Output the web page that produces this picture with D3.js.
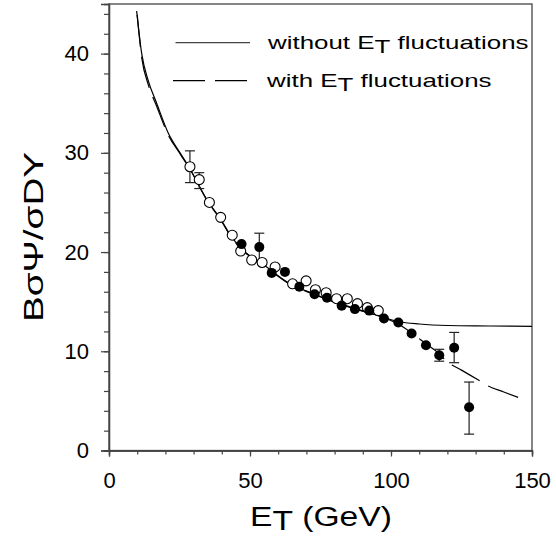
<!DOCTYPE html>
<meta charset="utf-8">
<script src="https://cdn.jsdelivr.net/npm/d3@7/dist/d3.min.js"></script>
<style>
  body { margin: 0; background: #fff; }
  text { font-family: "Liberation Sans", Arial, sans-serif; fill: #000; }
</style>
<svg width="556" height="537"></svg>
<script>
// open circles (E_T, ratio)
var openE = [28.7, 32.0, 35.6, 39.6, 43.7, 46.7, 50.6, 54.3, 58.9, 65.1, 69.9, 73.2, 77.0, 80.7, 84.5, 88.1, 91.6, 95.5];
var openV = [28.6, 27.3, 25.0, 23.5, 21.7, 20.1, 19.2, 18.95, 18.5, 16.8, 17.1, 16.2, 15.9, 15.3, 15.3, 14.8, 14.4, 14.1];
var openErr = [[27.0, 30.2], [26.4, 28.0], null, null, null, null, null, null, null, null, null, null, null, null, null, null, null, null];

// filled circles
var fullE = [47.0, 53.3, 57.7, 62.4, 67.5, 72.9, 77.3, 82.5, 87.2, 92.3, 97.5, 102.6, 107.3, 112.4, 117.1, 122.4, 127.7];
var fullV = [20.8, 20.5, 17.9, 18.0, 16.5, 15.75, 15.4, 14.6, 14.25, 14.1, 13.3, 12.9, 11.8, 10.6, 9.6, 10.35, 4.35];
var fullErr = [null, [19.0, 21.9], null, null, null, null, null, null, null, null, null, null, null, null, [9.0, 10.2], [8.85, 11.9], [1.65, 6.9]];

// curve without E_T fluctuations
var solidE = [9.8, 11.6, 14, 16.9, 21, 25.2, 28.7, 35.2, 39.4, 43.5, 48.2, 53.5, 64.2, 72.5, 81.9, 94.9, 102.6, 110, 120, 135, 150];
var solidV = [44.3, 40.0, 37.2, 35.0, 32.0, 30.0, 28.4, 25.05, 23.4, 21.5, 20.0, 19.0, 16.8, 15.8, 14.8, 13.65, 13.0, 12.75, 12.6, 12.55, 12.5];

// curve with E_T fluctuations
var dashE = [10, 11.6, 14, 16.9, 21, 25.2, 28.7, 35.2, 39.4, 43.5, 48.2, 53.5, 64.2, 72.5, 81.9, 94.9, 102.6, 107.3, 112.4, 117.1, 119.7, 125, 131, 134.5, 140, 146];
var dashV = [43.9, 39.6, 36.8, 34.7, 31.8, 29.9, 28.35, 25.0, 23.35, 21.45, 19.95, 18.95, 16.75, 15.75, 14.75, 13.6, 12.75, 11.85, 10.75, 9.75, 9.0, 8.1, 7.1, 6.5, 5.9, 5.25];

var xTicks = [0, 50, 100, 150];
var yTicks = [0, 10, 20, 30, 40];
var legendLabels = ["without ", "with "];

var svg = d3.select("svg");

var x = d3.scaleLinear().domain([0, 150]).range([109, 532]);
var y = d3.scaleLinear().domain([0, 45]).range([450.5, 4]);

//Frame
svg.append("rect")
  .attr("x", x(0)).attr("y", y(45))
  .attr("width", x(150) - x(0)).attr("height", y(0) - y(45))
  .attr("fill", "none").attr("stroke", "#444").attr("stroke-width", 1.3);

//X minor + major ticks
svg.append("g")
  .attr("transform", "translate(0," + y(0) + ")")
  .call(d3.axisBottom(x).tickValues(d3.range(0, 151, 10)).tickSize(4).tickFormat(""));
var xMajor = svg.append("g")
  .attr("transform", "translate(0," + y(0) + ")")
  .call(d3.axisBottom(x).tickValues(xTicks).tickSize(6).tickPadding(16).tickFormat(d3.format("d")));
xMajor.selectAll("text").attr("font-size", 22).attr("font-family", "Liberation Sans, Arial, sans-serif").attr("fill", "#000");

//Y minor + major ticks
svg.append("g")
  .attr("transform", "translate(" + x(0) + ",0)")
  .call(d3.axisLeft(y).tickValues(d3.range(0, 45, 2)).tickSize(5).tickFormat(""));
var yMajor = svg.append("g")
  .attr("transform", "translate(" + x(0) + ",0)")
  .call(d3.axisLeft(y).tickValues(yTicks).tickSize(8).tickPadding(12).tickFormat(d3.format("d")));
yMajor.selectAll("text").attr("font-size", 22).attr("font-family", "Liberation Sans, Arial, sans-serif").attr("fill", "#000");

svg.selectAll(".domain").attr("stroke", "#444").attr("stroke-width", 1.3);
svg.selectAll(".tick line").attr("stroke", "#444").attr("stroke-width", 1.2);

//Curves
var solidLine = d3.line()
  .x(function(d, i) { return x(solidE[i]); })
  .y(function(d) { return y(d); })
  .curve(d3.curveMonotoneX);
svg.append("path")
  .attr("d", solidLine(solidV))
  .attr("fill", "none").attr("stroke", "#000").attr("stroke-width", 1.2);

var dashLine = d3.line()
  .x(function(d, i) { return x(dashE[i]); })
  .y(function(d) { return y(d); })
  .curve(d3.curveMonotoneX);
svg.append("path")
  .attr("d", dashLine(dashV))
  .attr("fill", "none").attr("stroke", "#000").attr("stroke-width", 1.2)
  .attr("stroke-dasharray", "32,10");

//Error bars
function drawErr(E, err) {
  var g = svg.append("g").attr("stroke", "#222").attr("stroke-width", 1.2);
  err.forEach(function(e, i) {
    if (!e) return;
    var cx = x(E[i]);
    g.append("line").attr("x1", cx).attr("x2", cx).attr("y1", y(e[0])).attr("y2", y(e[1]));
    g.append("line").attr("x1", cx - 5).attr("x2", cx + 5).attr("y1", y(e[0])).attr("y2", y(e[0]));
    g.append("line").attr("x1", cx - 5).attr("x2", cx + 5).attr("y1", y(e[1])).attr("y2", y(e[1]));
  });
}
drawErr(openE, openErr);
drawErr(fullE, fullErr);

//Points
svg.append("g")
  .selectAll("circle")
  .data(openV)
  .enter()
  .append("circle")
  .attr("cx", function(d, i) { return x(openE[i]); })
  .attr("cy", function(d) { return y(d); })
  .attr("r", 5)
  .attr("fill", "#fff").attr("stroke", "#000").attr("stroke-width", 1.1);

svg.append("g")
  .selectAll("circle")
  .data(fullV)
  .enter()
  .append("circle")
  .attr("cx", function(d, i) { return x(fullE[i]); })
  .attr("cy", function(d) { return y(d); })
  .attr("r", 5)
  .attr("fill", "#000");

//Legend
var legY = [42.7, 80.7];
legendLabels.forEach(function(lab, i) {
  svg.append("line")
    .attr("x1", i == 0 ? 175.5 : 173).attr("x2", i == 0 ? 250 : 247)
    .attr("y1", legY[i]).attr("y2", legY[i])
    .attr("stroke", i == 0 ? "#444" : "#000").attr("stroke-width", 1.2)
    .attr("stroke-dasharray", i == 0 ? null : "32,10");
  var t = svg.append("text")
    .attr("transform", "translate(" + (i == 0 ? 268 : 267) + "," + (legY[i] + 6.5) + ") scale(1.4,1)")
    .attr("font-size", 18.5);
  t.append("tspan").text(lab + "E");
  t.append("tspan").attr("dy", 4).text("T");
  t.append("tspan").attr("dy", -4).text(" fluctuations");
});

//X-axis Label
var xl = svg.append("text")
  .attr("transform", "translate(250,526) scale(1.2,1)")
  .attr("font-size", 28);
xl.append("tspan").text("E");
xl.append("tspan").attr("dy", 4).text("T");
xl.append("tspan").attr("dy", -4).text(" (GeV)");

//Y-axis Label
svg.append("text")
  .attr("transform", "translate(43,237) rotate(-90) scale(1.38,1)")
  .attr("text-anchor", "middle")
  .attr("font-size", 28)
  .text("B\u03c3\u03a8/\u03c3DY");
</script>
